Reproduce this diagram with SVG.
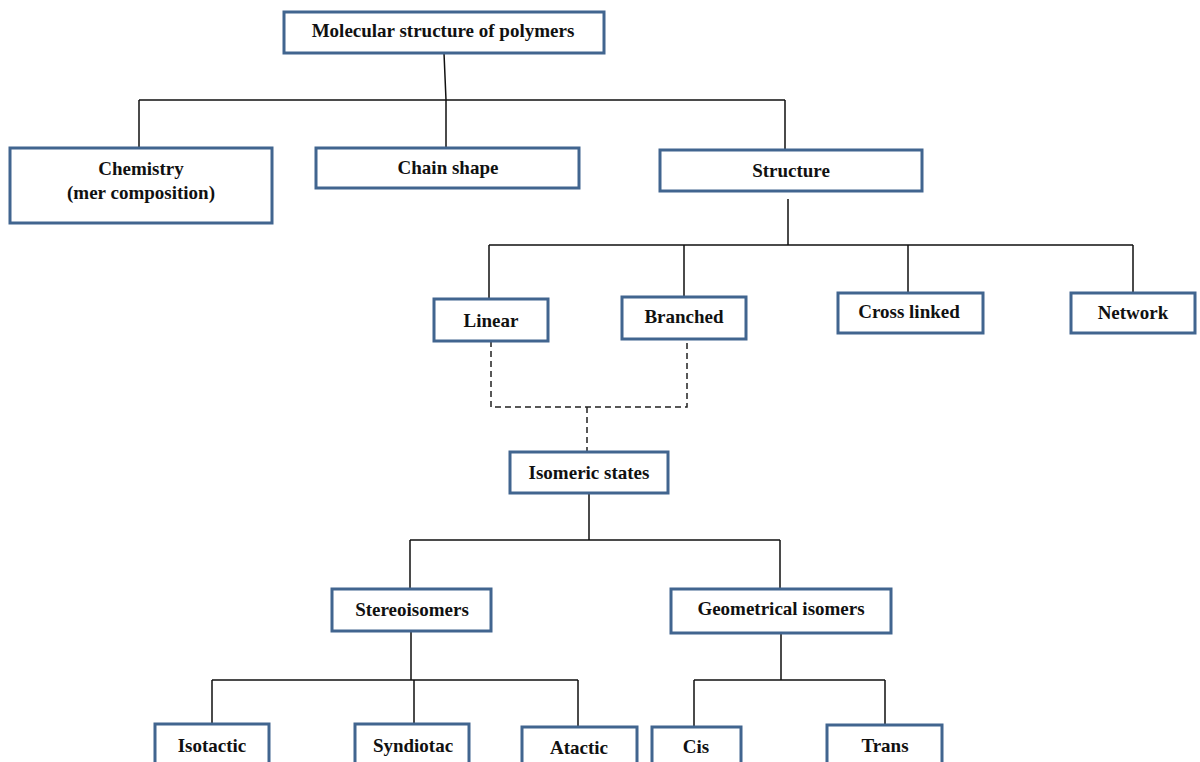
<svg xmlns="http://www.w3.org/2000/svg" width="1200" height="762" viewBox="0 0 1200 762">
<style>
.box{fill:#fff;stroke:#41658f;stroke-width:3}
.t{font-family:"Liberation Serif","Times New Roman",serif;font-weight:bold;font-size:19px;fill:#111;text-anchor:middle;dominant-baseline:central}
.c{fill:none;stroke:#111;stroke-width:1.5}
.d{fill:none;stroke:#222;stroke-width:1.5;stroke-dasharray:6 4}
</style>
<rect width="1200" height="762" fill="#fff"/>
<g id="connectors">
<path class="c" d="M444 53 L446 100 M139 100 H785 M139 100 V147 M446 100 V147 M785 100 V149"/>
<path class="c" d="M788 199 V245 M489 245 H1133 M489 245 V298 M684 245 V296 M908 245 V292 M1133 245 V292"/>
<path class="d" d="M491 341 V407 H687 V339 M587 407 V452"/>
<path class="c" d="M589 494 V540 M410 540 H780 M410 540 V589 M780 540 V589"/>
<path class="c" d="M411 632 V680 M212 680 H578 M212 680 V724 M414 680 V724 M578 680 V727"/>
<path class="c" d="M781 634 V680 M694 680 H885 M694 680 V727 M885 680 V725"/>
</g>
<g id="n-root"><rect class="box" x="284" y="12" width="320" height="41"/><text class="t" x="443" y="30">Molecular structure of polymers</text></g>
<g id="n-chem"><rect class="box" x="10" y="148" width="262" height="75"/><text class="t" x="141" y="168">Chemistry</text><text class="t" x="141" y="192">(mer composition)</text></g>
<g id="n-chain"><rect class="box" x="316" y="148" width="263" height="40"/><text class="t" x="448" y="167">Chain shape</text></g>
<g id="n-structure"><rect class="box" x="660" y="150" width="262" height="41"/><text class="t" x="791" y="170">Structure</text></g>
<g id="n-linear"><rect class="box" x="434" y="299" width="114" height="42"/><text class="t" x="491" y="320">Linear</text></g>
<g id="n-branched"><rect class="box" x="622" y="297" width="124" height="42"/><text class="t" x="684" y="316">Branched</text></g>
<g id="n-cross"><rect class="box" x="838" y="293" width="145" height="40"/><text class="t" x="909" y="311">Cross linked</text></g>
<g id="n-network"><rect class="box" x="1071" y="293" width="124" height="40"/><text class="t" x="1133" y="312">Network</text></g>
<g id="n-isomeric"><rect class="box" x="510" y="452" width="158" height="41"/><text class="t" x="589" y="472">Isomeric states</text></g>
<g id="n-stereo"><rect class="box" x="332" y="589" width="159" height="42"/><text class="t" x="412" y="609">Stereoisomers</text></g>
<g id="n-geo"><rect class="box" x="671" y="589" width="220" height="44"/><text class="t" x="781" y="608">Geometrical isomers</text></g>
<g id="n-iso"><rect class="box" x="155" y="724" width="114" height="50"/><text class="t" x="212" y="745">Isotactic</text></g>
<g id="n-syn"><rect class="box" x="355" y="724" width="114" height="50"/><text class="t" x="413" y="745">Syndiotac</text></g>
<g id="n-ata"><rect class="box" x="522" y="727" width="115" height="50"/><text class="t" x="579" y="747">Atactic</text></g>
<g id="n-cis"><rect class="box" x="652" y="727" width="89" height="50"/><text class="t" x="696" y="746">Cis</text></g>
<g id="n-trans"><rect class="box" x="827" y="725" width="115" height="50"/><text class="t" x="885" y="745">Trans</text></g>
</svg>
